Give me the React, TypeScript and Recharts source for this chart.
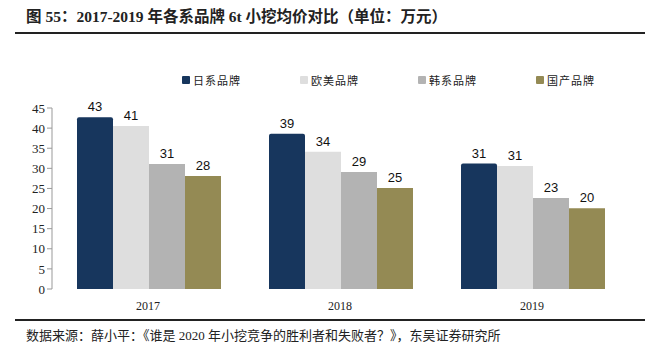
import { Bar, BarChart, LabelList, Legend, XAxis, YAxis } from 'recharts'

const years = ['2017', '2018', '2019']
const japan = [42.7, 38.6, 31.2]
const western = [40.5, 34.1, 30.6]
const korea = [31.1, 29.1, 22.6]
const domestic = [28.1, 25.1, 20.1]
const yTicks = [0, 5, 10, 15, 20, 25, 30, 35, 40, 45]

const series = [
  { key: 'japan', name: '日系品牌', color: '#17365D' },
  { key: 'western', name: '欧美品牌', color: '#DEDEDE' },
  { key: 'korea', name: '韩系品牌', color: '#B3B3B3' },
  { key: 'domestic', name: '国产品牌', color: '#948A54' },
]

const data = years.map((year, i) => ({
  year,
  japan: japan[i],
  western: western[i],
  korea: korea[i],
  domestic: domestic[i],
}))

const serif = '"Liberation Serif", "Times New Roman", serif'
const cjk = '"Noto Sans CJK SC", sans-serif'

function LegendBox() {
  return (
    <div style={{ display: 'flex', fontFamily: cjk, fontSize: 11, color: '#222', height: 17 }}>
      {series.map((s) => (
        <div key={s.key} style={{ width: 118, display: 'flex', alignItems: 'center' }}>
          <span style={{ width: 8, height: 8, background: s.color, borderRadius: 1, marginRight: 3 }} />
          <span style={{ letterSpacing: 1 }}>{s.name}</span>
        </div>
      ))}
    </div>
  )
}

export default function App() {
  return (
    <div style={{ position: 'absolute', left: 0, top: 0, width: 645, height: 355, background: '#fff' }}>
      <div
        style={{
          position: 'absolute', left: 26, top: 4, fontFamily: `${serif}, ${cjk}`,
          fontWeight: 'bold', fontSize: 15.5, color: '#222', whiteSpace: 'nowrap',
        }}
      >
        图 55：2017-2019 年各系品牌 6t 小挖均价对比（单位：万元）
      </div>
      <div style={{ position: 'absolute', left: 15, top: 32, width: 630, height: 2, background: '#222' }} />

      <div style={{ position: 'absolute', left: 0, top: 0 }}>
        <BarChart
          width={645}
          height={355}
          data={data}
          margin={{ top: 91, right: 17, bottom: 36, left: 0 }}
          barCategoryGap={25}
          barGap={0}
        >
          <XAxis
            xAxisId='edge'
            type='number'
            domain={[0, 3]}
            ticks={[0, 1, 2, 3]}
            allowDataOverflow
            height={0}
            stroke='#999'
            tickSize={5}
            tick={() => <g />}
          />
          <XAxis
            dataKey='year'
            height={30}
            axisLine={false}
            tickLine={false}
            tick={{ fontFamily: serif, fontSize: 12, fill: '#222' }}
            tickMargin={6}
          />
          <YAxis
            width={52}
            domain={[0, 45]}
            ticks={yTicks}
            interval={0}
            stroke='#999'
            tickSize={5}
            tick={{ fontFamily: serif, fontSize: 13, fill: '#222' }}
          />
          <Legend
            verticalAlign='top'
            content={() => <LegendBox />}
            wrapperStyle={{ position: 'absolute', top: 71, left: 182, width: 480 }}
          />
          {series.map((s) => (
            <Bar
              key={s.key}
              dataKey={s.key}
              name={s.name}
              fill={s.color}
              isAnimationActive={false}
              radius={s.key === 'japan' ? [2, 2, 0, 0] : 0}
            >
              <LabelList
                dataKey={s.key}
                position='top'
                offset={6}
                formatter={(v: any) => Math.round(Number(v))}
                style={{ fontFamily: '"Liberation Sans", Arial, sans-serif', fontSize: 13, fill: '#111' }}
              />
            </Bar>
          ))}
        </BarChart>
      </div>

      <div style={{ position: 'absolute', left: 15, top: 319, width: 630, height: 2, background: '#222' }} />
      <div
        style={{
          position: 'absolute', left: 26, top: 325, fontFamily: `${serif}, ${cjk}`,
          fontSize: 13, color: '#222', whiteSpace: 'nowrap',
        }}
      >
        数据来源：薛小平：《谁是 2020 年小挖竞争的胜利者和失败者？》，东吴证券研究所
      </div>
    </div>
  )
}
